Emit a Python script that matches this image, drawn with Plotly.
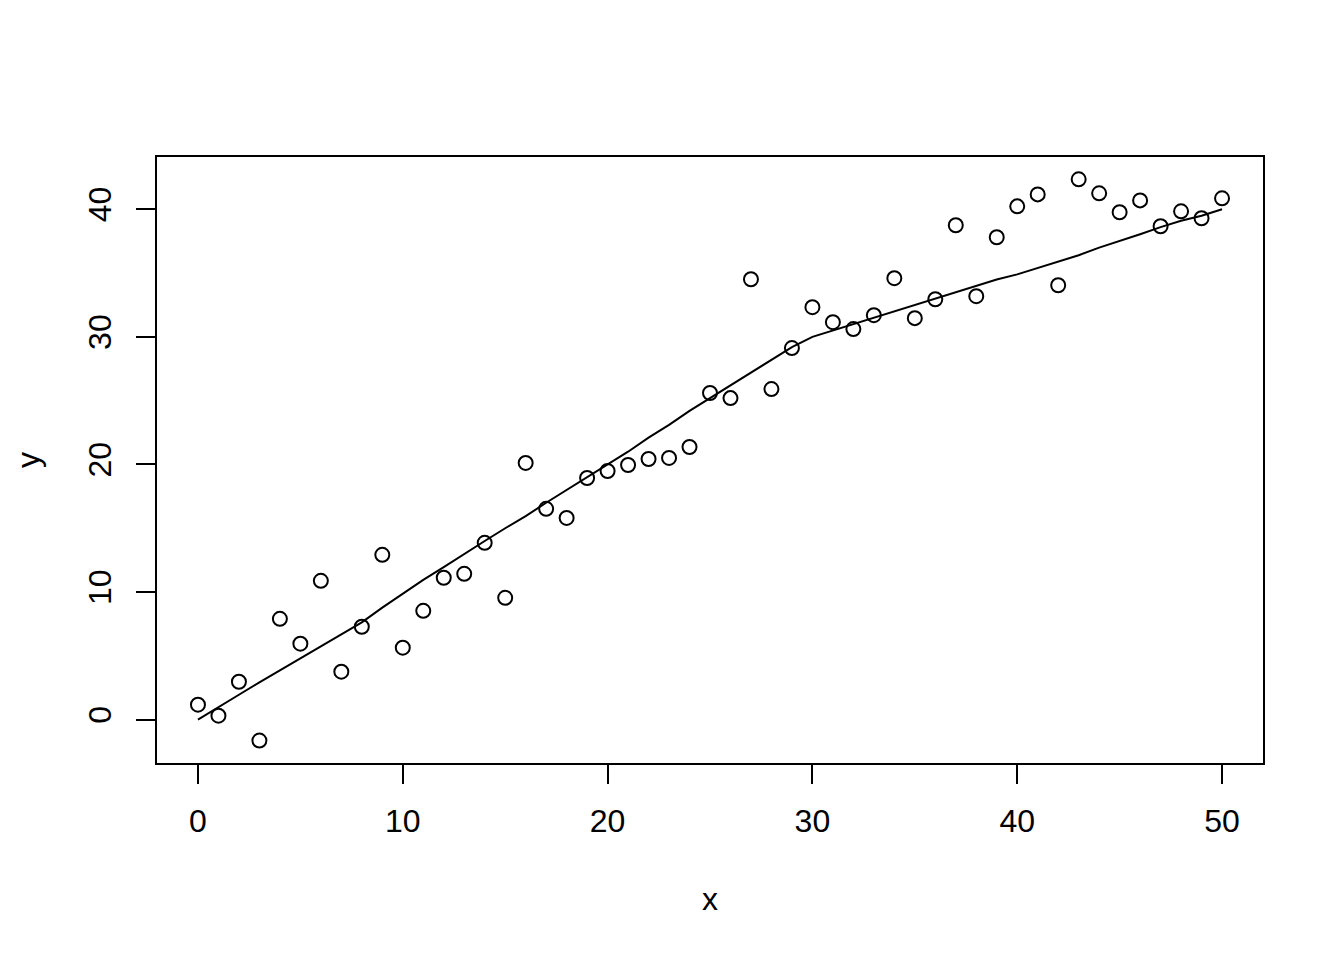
import plotly.graph_objects as go

x_vals = list(range(0, 51))
y_points = [1.17, 0.31, 2.97, -1.64, 7.90, 5.95, 10.88, 3.76, 7.28, 12.92,
            5.64, 8.53, 11.12, 11.43, 13.86, 9.55, 20.12, 16.52, 15.81, 18.94,
            19.49, 19.96, 20.43, 20.51, 21.37, 25.60, 25.20, 34.52, 25.91, 29.12,
            32.33, 31.15, 30.61, 31.70, 34.60, 31.47, 32.95, 38.75, 33.19, 37.81,
            40.23, 41.17, 34.05, 42.35, 41.25, 39.77, 40.70, 38.67, 39.84, 39.30,
            40.86]
y_smooth = [0.0, 0.95, 1.95, 2.92, 3.88, 4.82, 5.75, 6.68, 7.62, 8.78,
            9.9, 10.95, 11.95, 13.0, 14.0, 15.0, 15.95, 17.0, 18.0, 19.05,
            20.0, 21.0, 22.1, 23.1, 24.2, 25.2, 26.2, 27.2, 28.2, 29.2,
            30.0, 30.5, 30.95, 31.5, 32.0, 32.5, 33.0, 33.5, 34.0, 34.5,
            34.9, 35.4, 35.9, 36.4, 37.0, 37.5, 38.05, 38.6, 39.1, 39.5,
            40.0]
x_ticks = [0, 10, 20, 30, 40, 50]
y_ticks = [0, 10, 20, 30, 40]

FONT = "Liberation Sans, Arial, sans-serif"

fig = go.Figure()
fig.add_trace(go.Scatter(
    x=x_vals, y=y_points, mode="markers",
    marker=dict(symbol="circle-open", size=14, color="black", line=dict(width=2, color="black")),
    showlegend=False, hoverinfo="skip"))
fig.add_trace(go.Scatter(
    x=x_vals, y=y_smooth, mode="lines",
    line=dict(color="black", width=2),
    showlegend=False, hoverinfo="skip"))

axis_common = dict(
    showgrid=False, zeroline=False, showline=True, mirror=True,
    linecolor="black", linewidth=2, ticks="outside", ticklen=19,
    tickwidth=2, tickcolor="black",
    tickfont=dict(family=FONT, size=32, color="black"),
)

fig.update_xaxes(range=[-2, 52], tickvals=x_ticks, ticklabelstandoff=10, **axis_common)
fig.update_yaxes(range=[-3.4, 44.1], tickvals=y_ticks, tickangle=-90, ticklabelstandoff=12, **axis_common)

fig.update_layout(
    width=1328, height=944, autosize=False,
    margin=dict(l=149, r=73, t=149, b=189),
    plot_bgcolor="white", paper_bgcolor="white",
    font=dict(family=FONT, size=32, color="black"),
    annotations=[
        dict(text="x", xref="paper", yref="paper", x=0.5, y=0, yshift=-136,
             xanchor="center", yanchor="middle", showarrow=False,
             font=dict(family=FONT, size=32, color="black")),
        dict(text="y", xref="paper", yref="paper", x=0, y=0.5, xshift=-129,
             xanchor="center", yanchor="middle", textangle=-90, showarrow=False,
             font=dict(family=FONT, size=32, color="black")),
    ],
)

fig.write_html("out.html")
